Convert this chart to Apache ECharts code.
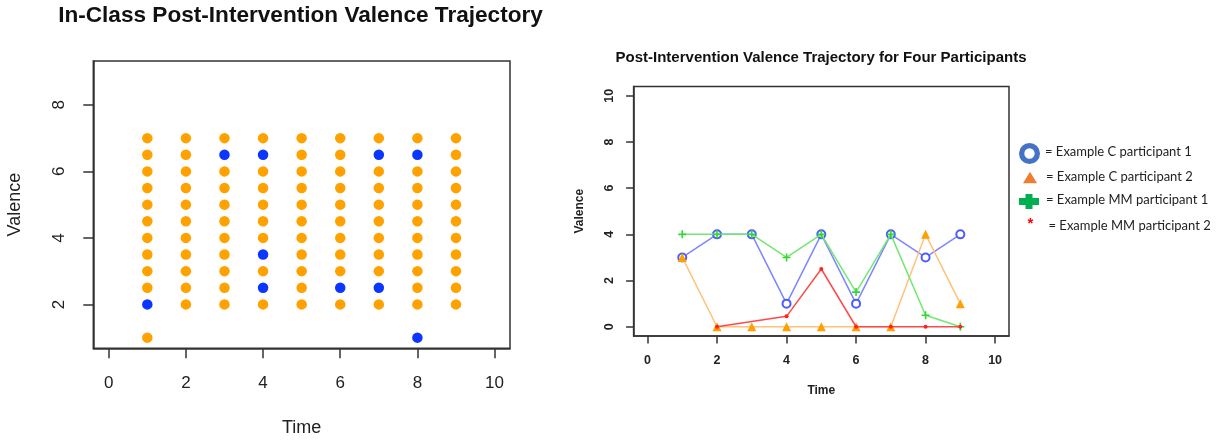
<!DOCTYPE html>
<html>
<head>
<meta charset="utf-8">
<script src="https://cdn.jsdelivr.net/npm/echarts@6/dist/echarts.min.js"></script>
<style>
  html, body { margin: 0; padding: 0; background: #fff; }
  #chart { width: 1225px; height: 445px; }
</style>
</head>
<body>
<div id="chart"></div>
<script>
// ---- In-class scatter: valence readings per time point ----
const times = [1, 2, 3, 4, 5, 6, 7, 8, 9];

// Orange group: list of valences recorded at each time point (index = time - 1)
const orangeValences = [
  [1, 2.5, 3, 3.5, 4, 4.5, 5, 5.5, 6, 6.5, 7],
  [2, 2.5, 3, 3.5, 4, 4.5, 5, 5.5, 6, 6.5, 7],
  [2, 2.5, 3, 3.5, 4, 4.5, 5, 5.5, 6, 7],
  [2, 3, 4, 4.5, 5, 5.5, 6, 7],
  [2, 2.5, 3, 3.5, 4, 4.5, 5, 5.5, 6, 6.5, 7],
  [2, 3, 3.5, 4, 4.5, 5, 5.5, 6, 6.5, 7],
  [2, 3, 3.5, 4, 4.5, 5, 5.5, 6, 7],
  [2, 2.5, 3, 3.5, 4, 4.5, 5, 5.5, 6, 7],
  [2, 2.5, 3, 3.5, 4, 4.5, 5, 5.5, 6, 6.5, 7]
];

// Blue group: paired time / valence readings
const blueTimes = [1, 3, 4, 4, 4, 6, 7, 7, 8, 8];
const blueValences = [2, 6.5, 6.5, 3.5, 2.5, 2.5, 2.5, 6.5, 6.5, 1];

// ---- Four participants trajectory ----
const cParticipant1 = [3, 4, 4, 1, 4, 1, 4, 3, 4];
const cParticipant2 = [3, 0, 0, 0, 0, 0, 0, 4, 1];
const mmParticipant1 = [4, 4, 4, 3, 4, 1.5, 4, 0.5, 0];
const mmParticipant2 = [null, 0, null, 0.45, 2.5, 0, 0, 0, 0];

// Axis tick labels
const xTicks = [0, 2, 4, 6, 8, 10];
const leftYTicks = [2, 4, 6, 8];
const rightYTicks = [0, 2, 4, 6, 8, 10];

const FONT = '"Liberation Sans", Arial, Helvetica, sans-serif';

const orangePoints = orangeValences.flatMap((vals, i) => vals.map(v => [times[i], v]));
const bluePoints = blueTimes.map((t, i) => [t, blueValences[i]]);
const pairs = vals => times.map((t, i) => [t, vals[i]]);

const chart = echarts.init(document.getElementById('chart'), null, { renderer: 'canvas' });

const plusPath = 'path://M4,0h2v4h4v2h-4v4h-2v-4h-4v-2h4z';

chart.setOption({
  animation: false,
  backgroundColor: '#ffffff',
  textStyle: { fontFamily: FONT },
  title: [
    {
      text: 'In-Class Post-Intervention Valence Trajectory',
      left: 300.5, top: 4, textAlign: 'center', padding: 0,
      textStyle: { fontSize: 22.6, fontWeight: 'bold', color: '#111', fontFamily: FONT }
    },
    {
      text: 'Post-Intervention Valence Trajectory for Four Participants',
      left: 821, top: 50, textAlign: 'center', padding: 0,
      textStyle: { fontSize: 15, fontWeight: 'bold', color: '#111', fontFamily: FONT }
    }
  ],
  grid: [
    { left: 93.3, right: 715, top: 61, bottom: 96.7, show: true, borderColor: '#333', borderWidth: 1.5 },
    { left: 633.6, right: 216, top: 86.5, bottom: 109, show: true, borderColor: '#333', borderWidth: 1.5 }
  ],
  xAxis: [
    {
      gridIndex: 0, type: 'value', min: -0.4, max: 10.4,
      axisLine: { show: true, onZero: false, lineStyle: { color: '#333', width: 1.5 } },
      splitLine: { show: false },
      axisTick: { show: true, customValues: xTicks, length: 10, lineStyle: { color: '#333', width: 1.5 } },
      axisLabel: { customValues: xTicks, margin: 27, fontSize: 17, color: '#222', fontFamily: FONT },
      name: 'Time', nameLocation: 'middle', nameGap: 71,
      nameTextStyle: { fontSize: 18, color: '#222', fontFamily: FONT }
    },
    {
      gridIndex: 1, type: 'value', min: -0.4, max: 10.4,
      axisLine: { show: true, onZero: false, lineStyle: { color: '#333', width: 1.5 } },
      splitLine: { show: false },
      axisTick: { show: true, customValues: xTicks, length: 7.5, lineStyle: { color: '#333', width: 1.5 } },
      axisLabel: { customValues: xTicks, margin: 18, fontSize: 12.5, fontWeight: 'bold', color: '#222', fontFamily: FONT },
      name: 'Time', nameLocation: 'middle', nameGap: 49,
      nameTextStyle: { fontSize: 12, fontWeight: 'bold', color: '#222', fontFamily: FONT }
    }
  ],
  yAxis: [
    {
      gridIndex: 0, type: 'value', min: 0.68, max: 9.32,
      axisLine: { show: true, onZero: false, lineStyle: { color: '#333', width: 1.5 } },
      splitLine: { show: false },
      axisTick: { show: true, customValues: leftYTicks, length: 10, lineStyle: { color: '#333', width: 1.5 } },
      axisLabel: { customValues: leftYTicks, rotate: 90, margin: 25, fontSize: 17, color: '#222', fontFamily: FONT },
      name: 'Valence', nameLocation: 'middle', nameGap: 69,
      nameTextStyle: { fontSize: 18, color: '#222', fontFamily: FONT }
    },
    {
      gridIndex: 1, type: 'value', min: -0.4, max: 10.4,
      axisLine: { show: true, onZero: false, lineStyle: { color: '#333', width: 1.5 } },
      splitLine: { show: false },
      axisTick: { show: true, customValues: rightYTicks, length: 7.5, lineStyle: { color: '#333', width: 1.5 } },
      axisLabel: { customValues: rightYTicks, rotate: 90, margin: 18, fontSize: 12.5, fontWeight: 'bold', color: '#222', fontFamily: FONT },
      name: 'Valence', nameLocation: 'middle', nameGap: 48,
      nameTextStyle: { fontSize: 12, fontWeight: 'bold', color: '#222', fontFamily: FONT }
    }
  ],
  series: [
    {
      name: 'Blue group', type: 'scatter', xAxisIndex: 0, yAxisIndex: 0,
      data: bluePoints, symbol: 'circle', symbolSize: 10.5,
      itemStyle: { color: '#0a36ff', opacity: 1 }, z: 2
    },
    {
      name: 'Orange group', type: 'scatter', xAxisIndex: 0, yAxisIndex: 0,
      data: orangePoints, symbol: 'circle', symbolSize: 10.5,
      itemStyle: { color: '#ffa200', opacity: 1 }, z: 3
    },
    {
      name: 'Example C participant 1', type: 'line', xAxisIndex: 1, yAxisIndex: 1,
      data: pairs(cParticipant1), symbol: 'emptyCircle', symbolSize: 8,
      lineStyle: { color: '#7d86ff', width: 1.5 },
      itemStyle: { color: '#4d5cff', borderColor: '#4d5cff', borderWidth: 1.6 }, z: 2
    },
    {
      name: 'Example C participant 2', type: 'line', xAxisIndex: 1, yAxisIndex: 1,
      data: pairs(cParticipant2), symbol: 'triangle', symbolSize: 9,
      lineStyle: { color: '#ffc27a', width: 1.5 },
      itemStyle: { color: '#ffa000' }, z: 3
    },
    {
      name: 'Example MM participant 1', type: 'line', xAxisIndex: 1, yAxisIndex: 1,
      data: pairs(mmParticipant1), symbol: plusPath, symbolSize: 8,
      lineStyle: { color: '#72e872', width: 1.5 },
      itemStyle: { color: '#33d633' }, z: 4
    },
    {
      name: 'Example MM participant 2', type: 'line', xAxisIndex: 1, yAxisIndex: 1,
      data: pairs(mmParticipant2), connectNulls: true, symbol: 'circle', symbolSize: 4,
      lineStyle: { color: '#ff4a4a', width: 1.5 },
      itemStyle: { color: '#ff2020' }, z: 5
    }
  ],
  graphic: [
    // key: symbol swatches and descriptions
    { type: 'ring', shape: { cx: 1029.5, cy: 153.5, r: 10.5, r0: 5.2 }, style: { fill: '#4472c4' } },
    { type: 'polygon', shape: { points: [[1023, 183.3], [1030, 171.7], [1037, 183.3]] }, style: { fill: '#ed7d31' } },
    {
      type: 'polygon',
      shape: { points: [[1025.5, 194], [1032.5, 194], [1032.5, 198], [1039, 198], [1039, 205], [1032.5, 205],
                        [1032.5, 209], [1025.5, 209], [1025.5, 205], [1019, 205], [1019, 198], [1025.5, 198]] },
      style: { fill: '#00b050' }
    },
    { type: 'text', x: 1030.5, y: 224, style: { text: '*', fill: '#ff0000', font: 'bold 15px ' + FONT, textAlign: 'center', textVerticalAlign: 'middle' } },
    { type: 'text', x: 1045, y: 152, style: { text: '= Example C participant 1', fill: '#222', font: '13px Lato', textVerticalAlign: 'middle' } },
    { type: 'text', x: 1046, y: 177, style: { text: '= Example C participant 2', fill: '#222', font: '13px Lato', textVerticalAlign: 'middle' } },
    { type: 'text', x: 1046, y: 200, style: { text: '= Example MM participant 1', fill: '#222', font: '13px Lato', textVerticalAlign: 'middle' } },
    { type: 'text', x: 1048.5, y: 226, style: { text: '= Example MM participant 2', fill: '#222', font: '13px Lato', textVerticalAlign: 'middle' } }
  ]
});
</script>
</body>
</html>
